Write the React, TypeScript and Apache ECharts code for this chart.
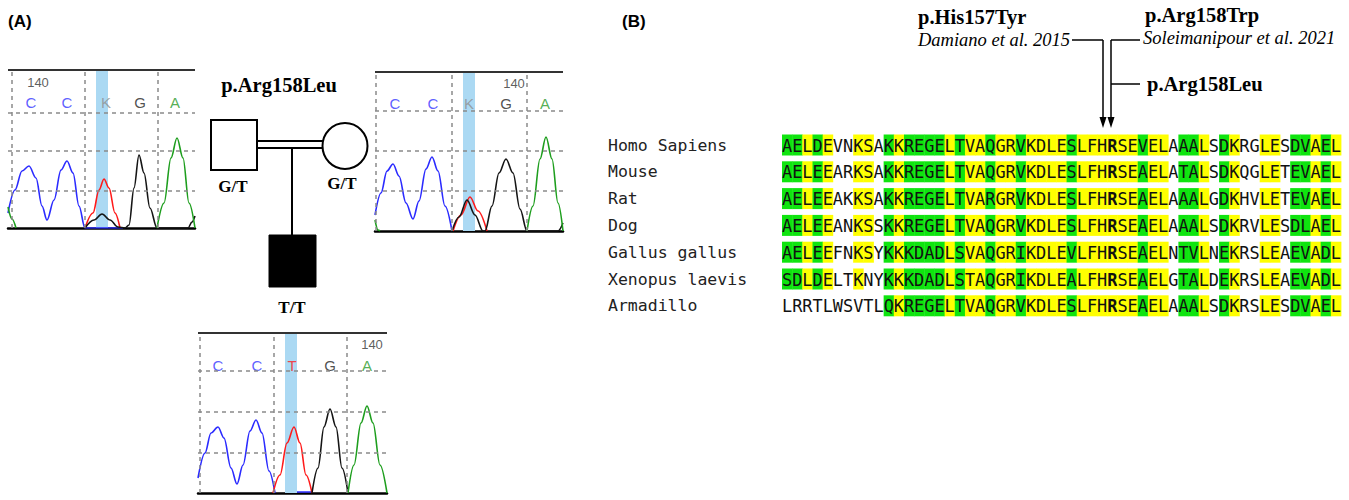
import React, { useEffect, useRef } from 'react';
import * as echarts from 'echarts';

// ---------- Panel A: chromatogram traces (x, signal) ----------
// Father (top-left)
const C1_BLUE = [[0,15],[7,38],[14,57],[21,62],[28,50],[34,22],[39,8],[46,28],[53,58],[59,67],[65,55],[71,22],[77,0],[115,0]];
const C1_RED = [[77,0],[85,15],[91,38],[96,49],[101,40],[107,15],[112,0]];
const C1_BLACK = [[77,0],[86,8],[94,14],[102,8],[110,1],[117,0],[121,3],[126,40],[131,73],[136,55],[142,20],[149,0],[180,0],[184,6],[187,12]];
const C1_GREEN_L = [[0,21],[4,9],[8,0]];
const C1_GREEN = [[149,0],[156,25],[163,70],[169,90],[175,70],[181,25],[187,0]];
const C1_BASES = ['C', 'C', 'K', 'G', 'A'];
const C1_BASE_X = [23, 59, 98, 132, 167];
const C1_NUM = [30, '140'];

// Mother (top-right)
const C2_BLUE = [[0,16],[6,38],[12,60],[18,67],[24,55],[31,28],[38,12],[44,30],[51,62],[57,74],[63,60],[70,25],[77,0]];
const C2_RED = [[78,0],[86,16],[95,34],[103,20],[112,0]];
const C2_BLACK = [[77,0],[84,14],[92,31],[100,16],[108,0],[110,0],[117,25],[124,58],[131,72],[138,58],[145,22],[152,0],[183,0],[188,8]];
const C2_GREEN_L = [[0,11],[3,1],[5,0]];
const C2_GREEN = [[152,0],[158,25],[165,72],[171,94],[177,72],[183,28],[188,0]];
const C2_BASES = ['C', 'C', 'K', 'G', 'A'];
const C2_BASE_X = [20, 58, 94, 131, 170];
const C2_NUM = [139, '140'];

// Proband (bottom)
const C3_BLUE = [[0,15],[7,40],[13,60],[20,66],[26,55],[33,25],[39,9],[45,28],[52,62],[58,73],[64,60],[71,22],[77,0]];
const C3_BLUE_B = [[99,1],[115,1]];
const C3_RED = [[75,0],[82,18],[89,50],[96,66],[102,50],[108,18],[114,0]];
const C3_BLACK = [[114,0],[120,25],[126,66],[132,84],[138,66],[144,25],[150,0]];
const C3_GREEN = [[150,0],[156,28],[163,70],[169,87],[175,70],[182,28],[189,0]];
const C3_BASES = ['C', 'C', 'T', 'G', 'A'];
const C3_BASE_X = [20, 59, 94, 132, 169];
const C3_NUM = [174, '140'];

const BASE_COLORS: Record<string, string> = { C: '#3535ff', K: '#8f8f8f', G: '#222222', A: '#2a9a2a', T: '#ff2020' };

// ---------- Panel B: alignment ----------
const SPECIES = ['Homo Sapiens', 'Mouse', 'Rat', 'Dog', 'Gallus gallus', 'Xenopus laevis', 'Armadillo'];
const SEQUENCES = [
  'AELDEVNKSAKKREGELTVAQGRVKDLESLFHRSEVELAAALSDKRGLESDVAEL',
  'AELEEARKSAKKREGELTVAQGRVKDLESLFHRSEAELATALSDKQGLETEVAEL',
  'AELEEAKKSAKKREGELTVARGRVKDLESLFHRSEAELAAALGDKHVLETEVAEL',
  'AELEEANKSSKKREGELTVAQGRVKDLESLFHRSEAELAAALSDKRVLESDLAEL',
  'AELEEFNKSYKKKDADLSVAQGRIKDLEVLFHRSEAELNTVLNEKRSLEAEVADL',
  'SDLDELTKNYKKKDADLSTAQGRIKDLEALFHRSEAELGTALDEKRSLEAEVADL',
  'LRRTLWSVTLQKREGELTVAQGRVKDLESLFHRSEAELAAALSDKRSLESDVAEL',
];
// g = green (identical), y = yellow (similar), . = no shading
const SHADING = [
  'ggygy..yy.' + 'gyggggygyy' + 'gyygyyyygy' + 'yyyyygyy.g' + 'gy.gy..yy.' + 'ggygy',
  'ggygy..yy.' + 'gyggggygyy' + 'gyygyyyygy' + 'yyyyygyy.g' + 'gy.gy..yy.' + 'ggygy',
  'ggygy..yy.' + 'gyggggygyy' + 'gyygyyyygy' + 'yyyyygyy.g' + 'gy.gy..yy.' + 'ggygy',
  'ggygy..yy.' + 'gyggggygyy' + 'gyygyyyygy' + 'yyyyygyy.g' + 'gy.gy..yy.' + 'ggygy',
  'ggygy..yy.' + 'gyggggygyy' + 'gyygyyyygy' + 'yyyyygyy.g' + 'gy.gy..yy.' + 'ggygy',
  'ggygy..y..' + 'gyggggygyy' + 'gyygyyyygy' + 'yyyyygyy.g' + 'gy.gy..yy.' + 'ggygy',
  '..........' + 'gyggggygyy' + 'gyygyyyygy' + 'yyyyygyy.g' + 'gy.gy..yy.' + 'ggygy',
];
const BOLD_COLUMN = 32;

export default function App() {
  const ref = useRef<HTMLDivElement>(null);

  useEffect(() => {
    if (!ref.current) return;
    const chart = echarts.init(ref.current, undefined, { renderer: 'svg' });

    const chroms = [
      { grid: { left: 8, top: 70, width: 187, height: 158 }, v: [4, 77, 150], h: [37, 77, 115], band: [88, 100], baseY: 126,
        traces: [[C1_BLUE, 'b'], [C1_RED, 'r'], [C1_BLACK, 'k'], [C1_GREEN_L, 'g'], [C1_GREEN, 'g']], bases: C1_BASES, bx: C1_BASE_X, num: C1_NUM, numY: 146 },
      { grid: { left: 375, top: 72, width: 188, height: 159 }, v: [1, 77, 152], h: [40, 80, 120], band: [88, 100], baseY: 128,
        traces: [[C2_BLUE, 'b'], [C2_RED, 'r'], [C2_BLACK, 'k'], [C2_GREEN_L, 'g'], [C2_GREEN, 'g']], bases: C2_BASES, bx: C2_BASE_X, num: C2_NUM, numY: 148 },
      { grid: { left: 198, top: 333, width: 189, height: 160 }, v: [2, 76, 149], h: [40, 81, 122], band: [87, 99], baseY: 128,
        traces: [[C3_BLUE, 'b'], [C3_BLUE_B, 'b'], [C3_RED, 'r'], [C3_BLACK, 'k'], [C3_GREEN, 'g']], bases: C3_BASES, bx: C3_BASE_X, num: C3_NUM, numY: 149 },
    ];
    const traceColors: Record<string, string> = { b: '#2b2bff', r: '#ff1a1a', k: '#151515', g: '#1e9e1e' };

    const grids: any[] = [];
    const xAxes: any[] = [];
    const yAxes: any[] = [];
    const series: any[] = [];

    chroms.forEach((c, i) => {
      grids.push({ ...c.grid, containLabel: false });
      xAxes.push({ type: 'value', gridIndex: i, min: 0, max: c.grid.width, axisLabel: { show: false }, axisTick: { show: false }, splitLine: { show: false },
        axisLine: { lineStyle: { color: '#000', width: 2.5 } } });
      yAxes.push({ type: 'value', gridIndex: i, min: 0, max: c.grid.height, show: false });
      series.push({
        type: 'line', xAxisIndex: i, yAxisIndex: i, data: [[0, 0]], symbol: 'none', lineStyle: { width: 0 }, z: 1, silent: true,
        markArea: { silent: true, itemStyle: { color: '#abd9f3' }, data: [[{ xAxis: c.band[0] }, { xAxis: c.band[1] }]] },
        markLine: {
          silent: true, symbol: 'none', label: { show: false },
          lineStyle: { type: [4, 4], color: '#8a8a8a', width: 1.5 },
          data: [
            ...c.v.map((v) => ({ xAxis: v })),
            ...c.h.map((h) => ({ yAxis: h })),
            { yAxis: c.grid.height, lineStyle: { type: 'solid', color: '#333', width: 2 } },
          ],
        },
      });
      c.traces.forEach(([d, col]: any) => {
        series.push({ type: 'line', xAxisIndex: i, yAxisIndex: i, data: d, symbol: 'none', smooth: 0.35, smoothMonotone: 'x', z: 3,
          lineStyle: { color: traceColors[col], width: 1.6 } });
      });
      series.push({
        type: 'scatter', xAxisIndex: i, yAxisIndex: i, symbolSize: 0, z: 4,
        label: { show: true, position: 'inside', formatter: '{b}', fontSize: 15, fontFamily: 'Liberation Sans' },
        data: [
          ...c.bases.map((b, k) => ({ name: b, value: [c.bx[k], c.baseY], label: { color: BASE_COLORS[b] } })),
          { name: c.num[1], value: [c.num[0], c.numY], label: { color: '#333', fontSize: 13 } },
        ],
      });
    });

    // alignment grid
    const gi = chroms.length;
    grids.push({ left: 782, top: 131.6, width: 559, height: 187.6 });
    const nCols = SEQUENCES[0].length;
    xAxes.push({ type: 'category', gridIndex: gi, data: Array.from({ length: nCols }, (_, k) => String(k)), show: false });
    yAxes.push({ type: 'category', gridIndex: gi, data: SPECIES, inverse: true, axisLine: { show: false }, axisTick: { show: false },
      axisLabel: { align: 'left', margin: 174, fontFamily: 'DejaVu Sans Mono', fontSize: 16.5, color: '#222' } });

    const cells: { col: number; row: number; ch: string; sh: string }[] = [];
    SEQUENCES.forEach((seq, r) => {
      for (let k = 0; k < seq.length; k++) cells.push({ col: k, row: r, ch: seq[k], sh: SHADING[r][k] || '.' });
    });
    const shadeColor: Record<string, string> = { g: '#0fe40f', y: '#ffff00' };
    series.push({
      type: 'custom', xAxisIndex: gi, yAxisIndex: gi, z: 5,
      data: cells.map((c) => [c.col, c.row]),
      renderItem: (params: any, api: any) => {
        const cell = cells[params.dataIndex];
        const p = api.coord([api.value(0), api.value(1)]);
        const s = api.size([1, 1]);
        const children: any[] = [];
        if (cell.sh !== '.') {
          children.push({ type: 'rect', shape: { x: p[0] - s[0] / 2, y: p[1] - 10.5, width: s[0] + 0.4, height: 21 }, style: { fill: shadeColor[cell.sh] } });
        }
        children.push({ type: 'text', x: p[0], y: p[1] + 0.5, scaleX: 0.94,
          style: { text: cell.ch, fill: '#111', align: 'center', verticalAlign: 'middle',
            font: `${cell.col === BOLD_COLUMN ? 'bold ' : ''}18px "DejaVu Sans Mono"` } });
        return { type: 'group', children };
      },
    });

    const serifB = 'bold 20.5px "Liberation Serif"';
    const serifI = 'italic 18.5px "Liberation Serif"';
    const txt = (x: number, y: number, text: string, font: string, align = 'left') =>
      ({ type: 'text', x, y, style: { text, font, fill: '#000', align, verticalAlign: 'middle' } });
    const ln = (x1: number, y1: number, x2: number, y2: number, w = 1.5) =>
      ({ type: 'line', shape: { x1, y1, x2, y2 }, style: { stroke: '#000', lineWidth: w } });

    const graphic: any[] = [
      txt(8, 21, '(A)', 'bold 17px "Liberation Sans"'),
      txt(622, 21, '(B)', 'bold 17px "Liberation Sans"'),
      // pedigree
      txt(279, 85, 'p.Arg158Leu', serifB, 'center'),
      { type: 'rect', shape: { x: 211, y: 120, width: 46, height: 50 }, style: { fill: '#fff', stroke: '#000', lineWidth: 2 } },
      { type: 'ellipse', shape: { cx: 345, cy: 146, rx: 22.5, ry: 23 }, style: { fill: '#fff', stroke: '#000', lineWidth: 2 } },
      ln(257, 141, 323, 141, 2),
      ln(257, 148, 323, 148, 2),
      ln(292, 148, 292, 235, 2),
      { type: 'rect', shape: { x: 269, y: 235, width: 47, height: 52 }, style: { fill: '#000', stroke: '#000', lineWidth: 1 } },
      txt(233, 186, 'G/T', 'bold 17px "Liberation Serif"', 'center'),
      txt(342, 183, 'G/T', 'bold 17px "Liberation Serif"', 'center'),
      txt(292, 307, 'T/T', 'bold 17px "Liberation Serif"', 'center'),
      // variant annotations
      txt(918, 17, 'p.His157Tyr', serifB),
      txt(918, 40, 'Damiano et al. 2015', serifI),
      ln(1072, 40, 1103, 40),
      ln(1103, 40, 1103, 120),
      { type: 'polygon', shape: { points: [[1099.5, 117], [1106.5, 117], [1103, 128]] }, style: { fill: '#000' } },
      txt(1145, 15, 'p.Arg158Trp', serifB),
      txt(1143, 38, 'Soleimanipour et al. 2021', serifI),
      ln(1111, 40, 1140, 40),
      ln(1111, 40, 1111, 120),
      { type: 'polygon', shape: { points: [[1107.5, 117], [1114.5, 117], [1111, 128]] }, style: { fill: '#000' } },
      txt(1147, 84, 'p.Arg158Leu', serifB),
      ln(1111, 84, 1140, 84),
    ];

    chart.setOption({
      animation: false,
      backgroundColor: '#fff',
      grid: grids,
      xAxis: xAxes,
      yAxis: yAxes,
      series,
      graphic,
    });
    return () => chart.dispose();
  }, []);

  return <div ref={ref} style={{ position: 'fixed', left: 0, top: 0, width: 1349, height: 500, background: '#fff' }} />;
}
